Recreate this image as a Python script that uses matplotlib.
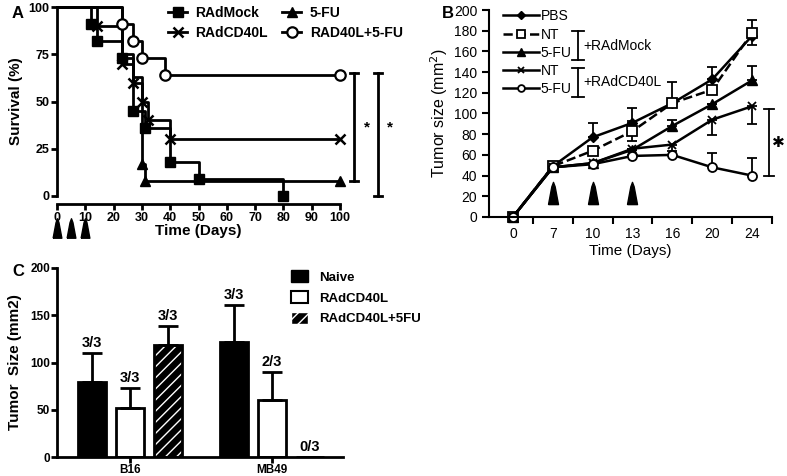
import numpy as np
import matplotlib.pyplot as plt
from matplotlib.path import Path
from matplotlib.patches import Patch

plt.rcParams['font.family'] = ['Liberation Sans', 'DejaVu Sans']

# ---- Panel A: survival (step curves) ----
mock_t = [0, 12, 14, 23, 27, 31, 40, 50, 80]
mock_s = [100, 91, 82, 73, 45, 36, 18, 9, 0]
cd40_t = [0, 14, 23, 27, 30, 32, 40, 100]
cd40_s = [100, 90, 70, 60, 50, 40, 30, 30]
fu_t = [0, 23, 27, 30, 31, 100]
fu_s = [100, 75, 63, 17, 8, 8]
combo_t = [0, 23, 27, 30, 38, 100]
combo_s = [100, 91, 82, 73, 64, 64]
dose_days_a = [0, 5, 10]

# ---- Panel B: tumor growth ----
days_b = ['0', '7', '10', '13', '16', '20', '24']
pbs = [0, 49, 77, 91, 110, 133, 175]
pbs_err = [0, 0, 14, 14, 20, 12, 0]
nt_mock = [0, 49, 64, 83, 110, 123, 178]
nt_mock_err = [0, 0, 0, 10, 0, 0, 12]
fu_mock = [0, 48, 52, 65, 88, 109, 132]
fu_mock_err = [0, 0, 0, 0, 6, 0, 14]
nt_cd40 = [0, 48, 52, 66, 70, 94, 107]
nt_cd40_err = [0, 0, 0, 0, 6, 15, 17]
fu_cd40 = [0, 48, 51, 59, 60, 48, 40]
fu_cd40_err = [0, 0, 0, 0, 0, 14, 17]
dose_idx_b = [1, 2, 3]

# ---- Panel C: rechallenge ----
tumors = ['B16', 'MB49']
naive = [79, 122]
naive_err = [31, 39]
cd40c = [52, 60]
cd40c_err = [21, 30]
comboc = [118, 0]
comboc_err = [21, 0]
naive_lbl = ['3/3', '3/3']
cd40_lbl = ['3/3', '2/3']
combo_lbl = ['3/3', '0/3']

fig = plt.figure(figsize=(7.87, 4.76), dpi=100)
W, H = 787, 476


def box(l, t, r, b):
    return [l / W, 1 - b / H, (r - l) / W, (b - t) / H]


arrow = Path([(-0.45, -1), (0.45, -1), (0.15, 0.6), (0, 1), (-0.15, 0.6), (-0.45, -1)])

# ================= A =================
axA = fig.add_axes(box(57, 7, 340, 196))
axA.step(mock_t, mock_s, where='post', color='k', lw=2, marker='s', ms=7.5,
         markevery=list(range(1, len(mock_t))), clip_on=False, label='RAdMock')
axA.step(cd40_t, cd40_s, where='post', color='k', lw=2, marker='x', ms=6.5, mew=1.8,
         markevery=list(range(1, len(cd40_t))), clip_on=False, label='RAdCD40L')
axA.step(fu_t, fu_s, where='post', color='k', lw=2, marker='^', ms=7,
         markevery=[3, 4, 5], clip_on=False, label='5-FU')
axA.step(combo_t, combo_s, where='post', color='k', lw=2, marker='o', ms=7.5,
         mfc='white', mew=1.6, markevery=list(range(1, len(combo_t))),
         clip_on=False, label='RAD40L+5-FU')
axA.set_xlim(0, 100)
axA.set_ylim(0, 100)
axA.set_xticks(np.arange(0, 101, 10))
axA.set_yticks([0, 25, 50, 75, 100])
for s in ['top', 'right']:
    axA.spines[s].set_visible(False)
axA.spines['bottom'].set_position(('outward', 6))
for s in ['left', 'bottom']:
    axA.spines[s].set_linewidth(2)
axA.tick_params(width=2, length=4, labelsize=9, pad=1.5)
for lab in axA.get_xticklabels() + axA.get_yticklabels():
    lab.set_fontweight('bold')
axA.set_ylabel('Survival (%)', fontsize=11, fontweight='bold', labelpad=4)
axA.set_xlabel('Time (Days)', fontsize=11, fontweight='bold')
axA.xaxis.set_label_coords(0.5, -0.148)
axA.plot(dose_days_a, [-0.17] * 3, transform=axA.get_xaxis_transform(),
         ls='none', marker=arrow, ms=14, color='k', clip_on=False)
axA.legend(ncol=2, loc='upper left', bbox_to_anchor=(0.372, 1.035), frameon=False,
           prop=dict(weight='bold', size=10), handlelength=1.4, columnspacing=1.0,
           handletextpad=0.6, labelspacing=0.42, borderaxespad=0)
# significance brackets
for x, y0, y1, xs in [(105, 65, 8, 109.5), (113.5, 65, 0, 117.5)]:
    axA.plot([x, x], [y0, y1], color='k', lw=2, clip_on=False)
    axA.plot([x - 1.5, x + 1.5], [y0, y0], color='k', lw=2, clip_on=False)
    axA.plot([x - 1.5, x + 1.5], [y1, y1], color='k', lw=2, clip_on=False)
    axA.text(xs, 36, '*', fontsize=11, fontweight='bold', ha='center', va='center')
fig.text(12 / W, 1 - 14 / H, 'A', fontsize=12, fontweight='bold', va='center')

# ================= B =================
axB = fig.add_axes(box(489, 10, 772, 217))
xb = np.arange(len(days_b))
zeros = [0] * len(xb)
ek = dict(capsize=3.5, elinewidth=1.3, capthick=1.3)
lB = []
lB.append(axB.errorbar(xb, pbs, yerr=[zeros, pbs_err], color='k', lw=1.8, marker='D',
                       ms=5, **ek))
lB.append(axB.errorbar(xb, nt_mock, yerr=nt_mock_err, color='k', lw=1.8, ls='--', marker='s',
                       ms=7, mfc='white', mew=1.3, **ek))
lB.append(axB.errorbar(xb, fu_mock, yerr=[zeros, fu_mock_err], color='k', lw=1.8, marker='^',
                       ms=7, **ek))
lB.append(axB.errorbar(xb, nt_cd40, yerr=[nt_cd40_err, zeros], color='k', lw=1.8, marker='x',
                       ms=5.5, mew=1.3, **ek))
lB.append(axB.errorbar(xb, fu_cd40, yerr=[zeros, fu_cd40_err], color='k', lw=1.8, marker='o',
                       ms=6.5, mfc='white', mew=1.3, **ek))
for ln in lB:
    ln[0].set_clip_on(False)
axB.set_xlim(-0.6, 6.5)
axB.set_ylim(0, 200)
axB.set_yticks(np.arange(0, 201, 20))
axB.set_xticks(np.arange(0.5, 6.6, 1))
axB.set_xticklabels([])
axB.set_xticks(xb, minor=True)
axB.set_xticklabels(days_b, minor=True)
axB.tick_params(axis='x', which='minor', length=0, labelsize=10, pad=7)
axB.tick_params(axis='both', which='major', width=1.5, length=5, labelsize=10)
for s in ['top', 'right']:
    axB.spines[s].set_visible(False)
for s in ['left', 'bottom']:
    axB.spines[s].set_linewidth(1.5)
axB.set_ylabel('Tumor size (mm$^2$)', fontsize=11.5, labelpad=3)
axB.set_xlabel('Time (Days)', fontsize=11)
axB.xaxis.set_label_coords(0.5, -0.13)
axB.plot(dose_idx_b, [23] * 3, ls='none', marker=arrow, ms=16, color='k')
handles = [h[0] for h in lB]
axB.legend(handles, ['PBS', 'NT', '5-FU', 'NT', '5-FU'], loc='upper left',
           bbox_to_anchor=(0.03, 1.03), frameon=False, fontsize=10, handlelength=2.6,
           handletextpad=0.1, labelspacing=0.3, borderaxespad=0, markerscale=0.75)
for y0, y1, txt in [(0.899, 0.758, '+RAdMock'), (0.720, 0.580, '+RAdCD40L')]:
    axB.plot([0.314, 0.314], [y0, y1], color='k', lw=1.3, transform=axB.transAxes)
    for yy in (y0, y1):
        axB.plot([0.294, 0.334], [yy, yy], color='k', lw=1.3, transform=axB.transAxes)
    axB.text(0.335, (y0 + y1) / 2, txt, fontsize=10, va='center', transform=axB.transAxes)
axB.plot([6.42, 6.42], [40, 104], color='k', lw=1.3, clip_on=False)
for yy in (40, 104):
    axB.plot([6.3, 6.55], [yy, yy], color='k', lw=1.3, clip_on=False)
axB.text(6.66, 72, '\u2731', fontsize=11, ha='center', va='center',
         family='DejaVu Sans', clip_on=False)
fig.text(442 / W, 1 - 13 / H, 'B', fontsize=12, fontweight='bold', va='center')

# ================= C =================
axC = fig.add_axes(box(57, 268, 343, 457))
g = np.arange(len(tumors))
step, bw = 0.268, 0.197
ekw = dict(elinewidth=2, capthick=2, capsize=7, ecolor='k')
n0 = [0] * len(g)
axC.bar(g - step, naive, bw, color='k', edgecolor='k', lw=2,
        yerr=[n0, naive_err], error_kw=ekw)
axC.bar(g, cd40c, bw, color='white', edgecolor='k', lw=2,
        yerr=[n0, cd40c_err], error_kw=ekw)
axC.bar(g + step, comboc, bw, color='k', edgecolor='white', lw=0, hatch='///')
axC.bar(g + step, comboc, bw, fill=False, edgecolor='k', lw=2,
        yerr=[n0, comboc_err], error_kw=ekw)
for off, vals, errs, lbls in [(-step, naive, naive_err, naive_lbl),
                              (0, cd40c, cd40c_err, cd40_lbl),
                              (step, comboc, comboc_err, combo_lbl)]:
    for i in g:
        axC.text(i + off, vals[i] + errs[i] + 3, lbls[i], ha='center', va='bottom',
                 fontsize=10.5, fontweight='bold')
axC.set_xlim(-0.514, 1.5)
axC.set_ylim(0, 200)
axC.set_yticks([0, 50, 100, 150, 200])
axC.set_xticks(g)
axC.set_xticklabels(tumors)
for s in ['top', 'right']:
    axC.spines[s].set_visible(False)
for s in ['left', 'bottom']:
    axC.spines[s].set_linewidth(2)
axC.tick_params(width=2, length=4, labelsize=8.5, pad=1)
for lab in axC.get_xticklabels() + axC.get_yticklabels():
    lab.set_fontweight('bold')
axC.set_ylabel('Tumor  Size (mm2)', fontsize=11, fontweight='bold', labelpad=6)
legC = [Patch(facecolor='k', edgecolor='k', label='Naive'),
        Patch(facecolor='white', edgecolor='k', lw=1.5, label='RAdCD40L'),
        Patch(facecolor='k', edgecolor='white', hatch='///', label='RAdCD40L+5FU')]
axC.legend(handles=legC, loc='upper left', bbox_to_anchor=(0.8, 1.015), frameon=False,
           prop=dict(weight='bold', size=9.5), handlelength=1.3, handleheight=1.0,
           labelspacing=0.55, handletextpad=0.8, borderaxespad=0)
fig.text(12 / W, 1 - 272 / H, 'C', fontsize=12, fontweight='bold', va='center')

fig.savefig('out.png', dpi=100)
